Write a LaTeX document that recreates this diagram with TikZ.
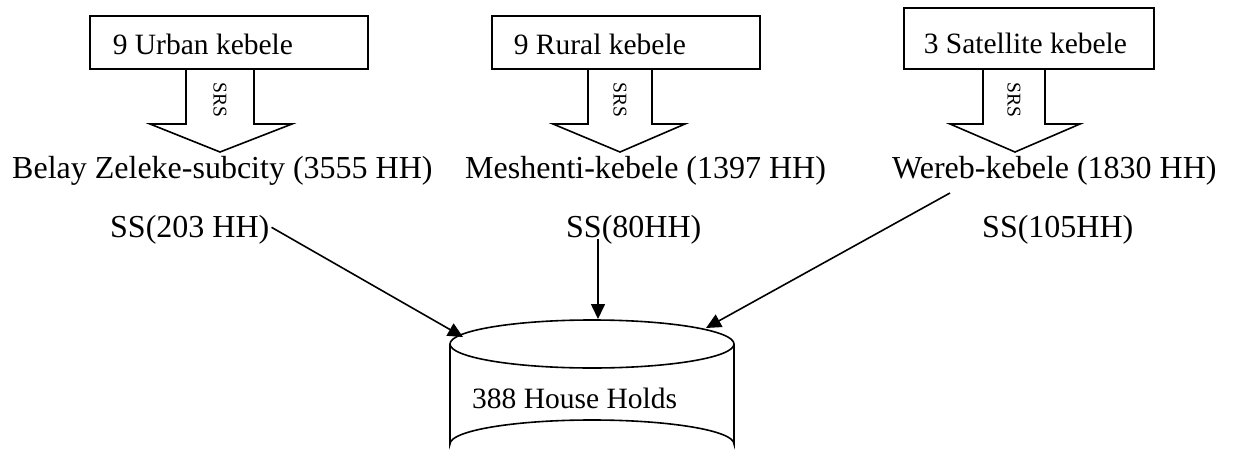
\documentclass[tikz,border=0pt]{standalone}
\usepackage{fontspec}
\setmainfont{Liberation Serif}
\usetikzlibrary{arrows.meta,calc}
\tikzset{
  box/.style={draw,line width=1.6pt,rectangle,align=flush left,anchor=north west,inner ysep=0pt,
    text depth=0pt,font=\fontsize{29.5}{34}\selectfont},
  blk/.style={draw,line width=1.6pt,line join=miter},
  srs/.style={rotate=-90,inner sep=0pt,font=\fontsize{19.5}{22}\selectfont},
  lbl/.style={anchor=base west,inner sep=0pt,font=\fontsize{32}{38}\selectfont},
  conn/.style={line width=1.6pt,-{Triangle[length=15pt,width=14pt]}},
  cyl/.style={line width=1.6pt}
}
\begin{document}
\begin{tikzpicture}[x=1pt,y=-1pt]
\useasboundingbox (0,0) rectangle (1234,463);
\clip (0,0) rectangle (1234,463);
% boxes
\node[box,minimum width=278pt,minimum height=53pt,text width=232pt,inner xsep=23pt,text height=25pt] (b1) at (89,15) {9 Urban kebele};
\node[box,minimum width=268pt,minimum height=53pt,text width=224pt,inner xsep=22pt,text height=25pt] (b2) at (491,15) {9 Rural kebele};
\node[box,minimum width=250pt,minimum height=61pt,text width=210pt,inner xsep=20pt,text height=31pt] (b3) at (903,7) {3 Satellite kebele};
% block arrows
\draw[blk] (186,68) -- (186,124) -- (150,124) -- (220,152) -- (292,124) -- (254,124) -- (254,68);
\draw[blk] (588,68) -- (588,124) -- (553,124) -- (620,152) -- (685,124) -- (652,124) -- (652,68);
\draw[blk] (983,68) -- (983,124) -- (950,124) -- (1015,152) -- (1080,124) -- (1045,124) -- (1045,68);
\node[srs] (s1) at (220,100) {SRS};
\node[srs] (s2) at (620,100) {SRS};
\node[srs] (s3) at (1014,100) {SRS};
% labels
\node[lbl] (l1) at (12,178) {Belay Zeleke-subcity (3555 HH)};
\node[lbl] (l2) at (465,178) {Meshenti-kebele (1397 HH)};
\node[lbl] (l3) at (892,178) {Wereb-kebele (1830 HH)};
\node[lbl] (ss1) at (110,237) {SS(203 HH)};
\node[lbl] (ss2) at (566,237) {SS(80HH)};
\node[lbl] (ss3) at (982,237) {SS(105HH)};
% cylinder
\draw[cyl] (450,344) arc[start angle=180,end angle=360,x radius=142,y radius=24];
\draw[cyl] (450,344) arc[start angle=180,end angle=0,x radius=142,y radius=24];
\draw[cyl] (450,344) -- (450,444) arc[start angle=180,end angle=360,x radius=142,y radius=24] -- (734,344);
\node[lbl,font=\fontsize{29.5}{34}\selectfont] (hh) at (472,408) {388 House Holds};
% connector ends
\coordinate (t1) at (463,337);
\coordinate (t2) at (598,319);
\coordinate (t3) at (706,328);
\coordinate (c2) at (598,239);
\coordinate (c3) at (950,193);
\draw[conn] ([xshift=2pt,yshift=2pt]ss1.east) -- (t1);
\draw[conn] (c2) -- (t2);
\draw[conn] (c3) -- (t3);
\end{tikzpicture}
\end{document}
